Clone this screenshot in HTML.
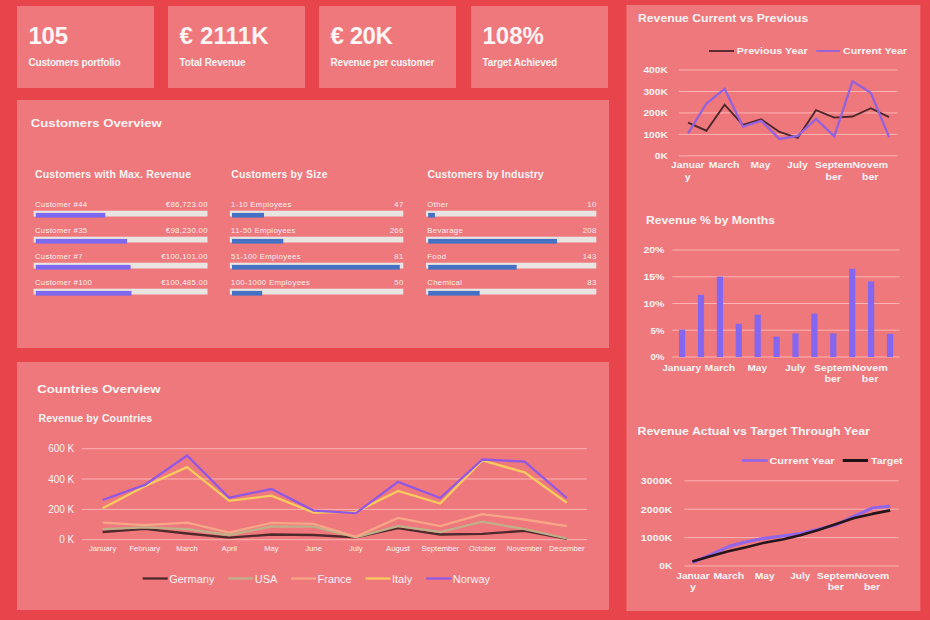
<!DOCTYPE html>
<html><head><meta charset="utf-8"><style>
html,body{margin:0;padding:0;width:930px;height:620px;overflow:hidden;background:#E7454B;}
svg{display:block;font-family:"Liberation Sans",sans-serif;}
</style></head><body>
<svg width="930" height="620" viewBox="0 0 930 620">
<rect x="0" y="0" width="930" height="620" fill="#E7454B"/>
<rect x="17" y="6" width="137" height="82" fill="#EF787C" />
<rect x="168" y="6" width="137" height="82" fill="#EF787C" />
<rect x="319" y="6" width="137" height="82" fill="#EF787C" />
<rect x="471" y="6" width="137" height="82" fill="#EF787C" />
<text x="28.5" y="44" font-size="24" font-weight="bold" text-anchor="start" fill="#FFF5F4" textLength="39.5" lengthAdjust="spacing" >105</text>
<text x="28.5" y="66" font-size="10" font-weight="bold" text-anchor="start" fill="#FFF5F4" textLength="92" lengthAdjust="spacing" >Customers portfolio</text>
<text x="179.5" y="44" font-size="24" font-weight="bold" text-anchor="start" fill="#FFF5F4" textLength="89.2" lengthAdjust="spacing" >€ 2111K</text>
<text x="179.5" y="66" font-size="10" font-weight="bold" text-anchor="start" fill="#FFF5F4" textLength="66" lengthAdjust="spacing" >Total Revenue</text>
<text x="330.5" y="44" font-size="24" font-weight="bold" text-anchor="start" fill="#FFF5F4" textLength="62.4" lengthAdjust="spacing" >€ 20K</text>
<text x="330.5" y="66" font-size="10" font-weight="bold" text-anchor="start" fill="#FFF5F4" textLength="103.9" lengthAdjust="spacing" >Revenue per customer</text>
<text x="482.5" y="44" font-size="24" font-weight="bold" text-anchor="start" fill="#FFF5F4" textLength="61.4" lengthAdjust="spacing" >108%</text>
<text x="482.5" y="66" font-size="10" font-weight="bold" text-anchor="start" fill="#FFF5F4" textLength="74.7" lengthAdjust="spacing" >Target Achieved</text>
<rect x="17" y="100" width="592" height="248" fill="#EF787C" />
<rect x="17" y="362" width="592" height="248" fill="#EF787C" />
<rect x="626.5" y="5" width="293.8" height="606" fill="#EF787C" />
<text x="30.8" y="127" font-size="11.8" font-weight="bold" text-anchor="start" fill="#FFF5F4" textLength="131" lengthAdjust="spacingAndGlyphs" >Customers Overview</text>
<text x="35.0" y="178.1" font-size="10.5" font-weight="bold" text-anchor="start" fill="#FFF5F4" textLength="156" lengthAdjust="spacing" >Customers with Max. Revenue</text>
<rect x="33.6" y="210.7" width="173.9" height="5.8" fill="#E9E4E1" />
<rect x="35.800000000000004" y="212.9" width="69.5" height="4.7" fill="#7D68F0" />
<text x="34.9" y="206.6" font-size="7.8" font-weight="normal" text-anchor="start" fill="#FDF0EF" letter-spacing="0.3">Customer #44</text>
<text x="207.8" y="206.6" font-size="7.8" font-weight="normal" text-anchor="end" fill="#FDF0EF" letter-spacing="0.3">€86,723.00</text>
<rect x="33.6" y="236.7" width="173.9" height="5.8" fill="#E9E4E1" />
<rect x="35.800000000000004" y="238.9" width="91.3" height="4.7" fill="#7D68F0" />
<text x="34.9" y="232.6" font-size="7.8" font-weight="normal" text-anchor="start" fill="#FDF0EF" letter-spacing="0.3">Customer #35</text>
<text x="207.8" y="232.6" font-size="7.8" font-weight="normal" text-anchor="end" fill="#FDF0EF" letter-spacing="0.3">€98,230.00</text>
<rect x="33.6" y="262.7" width="173.9" height="5.8" fill="#E9E4E1" />
<rect x="35.800000000000004" y="264.9" width="94.8" height="4.7" fill="#7D68F0" />
<text x="34.9" y="258.6" font-size="7.8" font-weight="normal" text-anchor="start" fill="#FDF0EF" letter-spacing="0.3">Customer #7</text>
<text x="207.8" y="258.6" font-size="7.8" font-weight="normal" text-anchor="end" fill="#FDF0EF" letter-spacing="0.3">€100,101.00</text>
<rect x="33.6" y="288.7" width="173.9" height="5.8" fill="#E9E4E1" />
<rect x="35.800000000000004" y="290.9" width="95.7" height="4.7" fill="#7D68F0" />
<text x="34.9" y="284.6" font-size="7.8" font-weight="normal" text-anchor="start" fill="#FDF0EF" letter-spacing="0.3">Customer #100</text>
<text x="207.8" y="284.6" font-size="7.8" font-weight="normal" text-anchor="end" fill="#FDF0EF" letter-spacing="0.3">€100,485.00</text>
<text x="231.20000000000002" y="178.1" font-size="10.5" font-weight="bold" text-anchor="start" fill="#FFF5F4" textLength="96.3" lengthAdjust="spacing" >Customers by Size</text>
<rect x="229.8" y="210.7" width="173.5" height="5.8" fill="#E9E4E1" />
<rect x="232.0" y="212.9" width="32.0" height="4.7" fill="#4571C4" />
<text x="231.10000000000002" y="206.6" font-size="7.8" font-weight="normal" text-anchor="start" fill="#FDF0EF" letter-spacing="0.3">1-10 Employees</text>
<text x="403.6" y="206.6" font-size="7.8" font-weight="normal" text-anchor="end" fill="#FDF0EF" letter-spacing="0.3">47</text>
<rect x="229.8" y="236.7" width="173.5" height="5.8" fill="#E9E4E1" />
<rect x="232.0" y="238.9" width="51.3" height="4.7" fill="#4571C4" />
<text x="231.10000000000002" y="232.6" font-size="7.8" font-weight="normal" text-anchor="start" fill="#FDF0EF" letter-spacing="0.3">11-50 Employees</text>
<text x="403.6" y="232.6" font-size="7.8" font-weight="normal" text-anchor="end" fill="#FDF0EF" letter-spacing="0.3">266</text>
<rect x="229.8" y="262.7" width="173.5" height="5.8" fill="#E9E4E1" />
<rect x="232.0" y="264.9" width="167.8" height="4.7" fill="#4571C4" />
<text x="231.10000000000002" y="258.6" font-size="7.8" font-weight="normal" text-anchor="start" fill="#FDF0EF" letter-spacing="0.3">51-100 Employees</text>
<text x="403.6" y="258.6" font-size="7.8" font-weight="normal" text-anchor="end" fill="#FDF0EF" letter-spacing="0.3">81</text>
<rect x="229.8" y="288.7" width="173.5" height="5.8" fill="#E9E4E1" />
<rect x="232.0" y="290.9" width="30.2" height="4.7" fill="#4571C4" />
<text x="231.10000000000002" y="284.6" font-size="7.8" font-weight="normal" text-anchor="start" fill="#FDF0EF" letter-spacing="0.3">100-1000 Employees</text>
<text x="403.6" y="284.6" font-size="7.8" font-weight="normal" text-anchor="end" fill="#FDF0EF" letter-spacing="0.3">50</text>
<text x="427.4" y="178.1" font-size="10.5" font-weight="bold" text-anchor="start" fill="#FFF5F4" textLength="116.3" lengthAdjust="spacing" >Customers by Industry</text>
<rect x="426" y="210.7" width="170.3" height="5.8" fill="#E9E4E1" />
<rect x="428.2" y="212.9" width="6.7" height="4.7" fill="#4571C4" />
<text x="427.3" y="206.6" font-size="7.8" font-weight="normal" text-anchor="start" fill="#FDF0EF" letter-spacing="0.3">Other</text>
<text x="596.5999999999999" y="206.6" font-size="7.8" font-weight="normal" text-anchor="end" fill="#FDF0EF" letter-spacing="0.3">10</text>
<rect x="426" y="236.7" width="170.3" height="5.8" fill="#E9E4E1" />
<rect x="428.2" y="238.9" width="128.8" height="4.7" fill="#4571C4" />
<text x="427.3" y="232.6" font-size="7.8" font-weight="normal" text-anchor="start" fill="#FDF0EF" letter-spacing="0.3">Bevarage</text>
<text x="596.5999999999999" y="232.6" font-size="7.8" font-weight="normal" text-anchor="end" fill="#FDF0EF" letter-spacing="0.3">208</text>
<rect x="426" y="262.7" width="170.3" height="5.8" fill="#E9E4E1" />
<rect x="428.2" y="264.9" width="88.5" height="4.7" fill="#4571C4" />
<text x="427.3" y="258.6" font-size="7.8" font-weight="normal" text-anchor="start" fill="#FDF0EF" letter-spacing="0.3">Food</text>
<text x="596.5999999999999" y="258.6" font-size="7.8" font-weight="normal" text-anchor="end" fill="#FDF0EF" letter-spacing="0.3">143</text>
<rect x="426" y="288.7" width="170.3" height="5.8" fill="#E9E4E1" />
<rect x="428.2" y="290.9" width="51.5" height="4.7" fill="#4571C4" />
<text x="427.3" y="284.6" font-size="7.8" font-weight="normal" text-anchor="start" fill="#FDF0EF" letter-spacing="0.3">Chemical</text>
<text x="596.5999999999999" y="284.6" font-size="7.8" font-weight="normal" text-anchor="end" fill="#FDF0EF" letter-spacing="0.3">83</text>
<text x="37.3" y="393" font-size="11.8" font-weight="bold" text-anchor="start" fill="#FFF5F4" textLength="123.2" lengthAdjust="spacingAndGlyphs" >Countries Overview</text>
<text x="38.5" y="422" font-size="10.5" font-weight="bold" text-anchor="start" fill="#FFF5F4" textLength="113.5" lengthAdjust="spacing" >Revenue by Countries</text>
<line x1="81.7" y1="539.7" x2="586.8" y2="539.7" stroke="#FAB4B4" stroke-width="1"/>
<text x="74.3" y="543.2" font-size="10" font-weight="normal" text-anchor="end" fill="#FFF5F4" >0 K</text>
<line x1="81.7" y1="509.4" x2="586.8" y2="509.4" stroke="#FAB4B4" stroke-width="1"/>
<text x="74.3" y="512.8700000000001" font-size="10" font-weight="normal" text-anchor="end" fill="#FFF5F4" >200 K</text>
<line x1="81.7" y1="479.0" x2="586.8" y2="479.0" stroke="#FAB4B4" stroke-width="1"/>
<text x="74.3" y="482.5400000000001" font-size="10" font-weight="normal" text-anchor="end" fill="#FFF5F4" >400 K</text>
<line x1="81.7" y1="448.7" x2="586.8" y2="448.7" stroke="#FAB4B4" stroke-width="1"/>
<text x="74.3" y="452.21000000000004" font-size="10" font-weight="normal" text-anchor="end" fill="#FFF5F4" >600 K</text>
<text x="102.6" y="551" font-size="7.7" font-weight="normal" text-anchor="middle" fill="#FFF5F4" >January</text>
<text x="144.8" y="551" font-size="7.7" font-weight="normal" text-anchor="middle" fill="#FFF5F4" >February</text>
<text x="187.0" y="551" font-size="7.7" font-weight="normal" text-anchor="middle" fill="#FFF5F4" >March</text>
<text x="229.2" y="551" font-size="7.7" font-weight="normal" text-anchor="middle" fill="#FFF5F4" >April</text>
<text x="271.4" y="551" font-size="7.7" font-weight="normal" text-anchor="middle" fill="#FFF5F4" >May</text>
<text x="313.6" y="551" font-size="7.7" font-weight="normal" text-anchor="middle" fill="#FFF5F4" >June</text>
<text x="355.8" y="551" font-size="7.7" font-weight="normal" text-anchor="middle" fill="#FFF5F4" >July</text>
<text x="398.0" y="551" font-size="7.7" font-weight="normal" text-anchor="middle" fill="#FFF5F4" >August</text>
<text x="440.2" y="551" font-size="7.7" font-weight="normal" text-anchor="middle" fill="#FFF5F4" >September</text>
<text x="482.4" y="551" font-size="7.7" font-weight="normal" text-anchor="middle" fill="#FFF5F4" >October</text>
<text x="524.6" y="551" font-size="7.7" font-weight="normal" text-anchor="middle" fill="#FFF5F4" >November</text>
<text x="566.8" y="551" font-size="7.7" font-weight="normal" text-anchor="middle" fill="#FFF5F4" >December</text>
<polyline points="102.6,532.0 144.8,528.8 187.0,533.5 229.2,537.6 271.4,534.5 313.6,535.0 355.8,537.3 398.0,528.2 440.2,534.5 482.4,533.9 524.6,530.8 566.8,538.9" fill="none" stroke="#50292D" stroke-width="2.3" stroke-linejoin="miter"/>
<polyline points="102.6,529.2 144.8,527.4 187.0,529.2 229.2,535.0 271.4,526.5 313.6,526.7 355.8,537.3 398.0,526.1 440.2,532.0 482.4,521.7 524.6,529.2 566.8,538.5" fill="none" stroke="#C0B08A" stroke-width="2.3" stroke-linejoin="miter"/>
<polyline points="102.6,522.6 144.8,525.1 187.0,522.7 229.2,532.6 271.4,522.9 313.6,523.9 355.8,536.8 398.0,517.9 440.2,526.1 482.4,514.2 524.6,519.5 566.8,526.1" fill="none" stroke="#F7A688" stroke-width="2.3" stroke-linejoin="miter"/>
<polyline points="102.6,508.2 144.8,486.2 187.0,467.1 229.2,500.9 271.4,495.6 313.6,512.6 355.8,511.9 398.0,491.0 440.2,503.5 482.4,460.4 524.6,472.4 566.8,502.8" fill="none" stroke="#FACB5E" stroke-width="2.3" stroke-linejoin="miter"/>
<polyline points="102.6,500.0 144.8,484.9 187.0,455.5 229.2,497.7 271.4,489.0 313.6,510.6 355.8,513.2 398.0,481.9 440.2,498.0 482.4,459.5 524.6,461.6 566.8,498.0" fill="none" stroke="#9258E2" stroke-width="2.3" stroke-linejoin="miter"/>
<line x1="142.7" y1="578.5" x2="167.7" y2="578.5" stroke="#50292D" stroke-width="2.3"/>
<text x="169.2" y="582.5" font-size="11" font-weight="normal" text-anchor="start" fill="#FFF5F4" >Germany</text>
<line x1="228.2" y1="578.5" x2="253.2" y2="578.5" stroke="#C0B08A" stroke-width="2.3"/>
<text x="254.7" y="582.5" font-size="11" font-weight="normal" text-anchor="start" fill="#FFF5F4" >USA</text>
<line x1="291" y1="578.5" x2="316" y2="578.5" stroke="#F7A688" stroke-width="2.3"/>
<text x="317.5" y="582.5" font-size="11" font-weight="normal" text-anchor="start" fill="#FFF5F4" >France</text>
<line x1="365.5" y1="578.5" x2="390.5" y2="578.5" stroke="#FACB5E" stroke-width="2.3"/>
<text x="392.0" y="582.5" font-size="11" font-weight="normal" text-anchor="start" fill="#FFF5F4" >Italy</text>
<line x1="426.3" y1="578.5" x2="451.3" y2="578.5" stroke="#9258E2" stroke-width="2.3"/>
<text x="452.8" y="582.5" font-size="11" font-weight="normal" text-anchor="start" fill="#FFF5F4" >Norway</text>
<text x="638" y="21.9" font-size="10.5" font-weight="bold" text-anchor="start" fill="#FFF5F4" textLength="170.3" lengthAdjust="spacingAndGlyphs" >Revenue Current vs Previous</text>
<line x1="709" y1="51" x2="734" y2="51" stroke="#55282E" stroke-width="1.9"/>
<text x="736.8" y="54.4" font-size="9.6" font-weight="bold" text-anchor="start" fill="#FFF5F4" textLength="70.9" lengthAdjust="spacingAndGlyphs" >Previous Year</text>
<line x1="816.3" y1="51" x2="840" y2="51" stroke="#9562DC" stroke-width="1.9"/>
<text x="843" y="54.4" font-size="9.6" font-weight="bold" text-anchor="start" fill="#FFF5F4" textLength="64" lengthAdjust="spacingAndGlyphs" >Current Year</text>
<line x1="678.7" y1="155.8" x2="897.5" y2="155.8" stroke="#FAB4B4" stroke-width="1"/>
<text x="654.8" y="159.1" font-size="9.2" font-weight="bold" text-anchor="start" fill="#FFF5F4" textLength="13" lengthAdjust="spacingAndGlyphs" >0K</text>
<line x1="678.7" y1="134.4" x2="897.5" y2="134.4" stroke="#FAB4B4" stroke-width="1"/>
<text x="643.4" y="137.7" font-size="9.2" font-weight="bold" text-anchor="start" fill="#FFF5F4" textLength="24.4" lengthAdjust="spacingAndGlyphs" >100K</text>
<line x1="678.7" y1="112.9" x2="897.5" y2="112.9" stroke="#FAB4B4" stroke-width="1"/>
<text x="643.4" y="116.2" font-size="9.2" font-weight="bold" text-anchor="start" fill="#FFF5F4" textLength="24.4" lengthAdjust="spacingAndGlyphs" >200K</text>
<line x1="678.7" y1="91.5" x2="897.5" y2="91.5" stroke="#FAB4B4" stroke-width="1"/>
<text x="643.4" y="94.8" font-size="9.2" font-weight="bold" text-anchor="start" fill="#FFF5F4" textLength="24.4" lengthAdjust="spacingAndGlyphs" >300K</text>
<line x1="678.7" y1="70.0" x2="897.5" y2="70.0" stroke="#FAB4B4" stroke-width="1"/>
<text x="643.4" y="73.3" font-size="9.2" font-weight="bold" text-anchor="start" fill="#FFF5F4" textLength="24.4" lengthAdjust="spacingAndGlyphs" >400K</text>
<polyline points="688.1,122.6 706.4,130.7 724.6,104.7 742.9,124.9 761.2,119.3 779.5,132.0 797.7,137.8 816.0,110.1 834.3,117.6 852.5,116.5 870.8,108.2 889.1,117.2" fill="none" stroke="#4E272C" stroke-width="1.9" stroke-linejoin="miter"/>
<polyline points="688.1,133.3 706.4,103.5 724.6,88.9 742.9,126.6 761.2,120.8 779.5,138.9 797.7,135.9 816.0,118.9 834.3,136.3 852.5,81.2 870.8,92.7 889.1,137.1" fill="none" stroke="#9562DC" stroke-width="2.3" stroke-linejoin="miter"/>
<text x="671.0" y="168.4" font-size="9.2" font-weight="bold" text-anchor="start" fill="#FFF5F4" textLength="33.6" lengthAdjust="spacingAndGlyphs" >Januar</text>
<text x="684.8" y="180" font-size="9.2" font-weight="bold" text-anchor="start" fill="#FFF5F4" textLength="6" lengthAdjust="spacingAndGlyphs" >y</text>
<text x="708.7" y="168.4" font-size="9.2" font-weight="bold" text-anchor="start" fill="#FFF5F4" textLength="30.8" lengthAdjust="spacingAndGlyphs" >March</text>
<text x="750.5" y="168.4" font-size="9.2" font-weight="bold" text-anchor="start" fill="#FFF5F4" textLength="19.9" lengthAdjust="spacingAndGlyphs" >May</text>
<text x="787.0" y="168.4" font-size="9.2" font-weight="bold" text-anchor="start" fill="#FFF5F4" textLength="20.7" lengthAdjust="spacingAndGlyphs" >July</text>
<text x="815.0" y="168.4" font-size="9.2" font-weight="bold" text-anchor="start" fill="#FFF5F4" textLength="37.4" lengthAdjust="spacingAndGlyphs" >Septem</text>
<text x="825.5" y="180" font-size="9.2" font-weight="bold" text-anchor="start" fill="#FFF5F4" textLength="16.5" lengthAdjust="spacingAndGlyphs" >ber</text>
<text x="852.3" y="168.4" font-size="9.2" font-weight="bold" text-anchor="start" fill="#FFF5F4" textLength="35.9" lengthAdjust="spacingAndGlyphs" >Novem</text>
<text x="862.0" y="180" font-size="9.2" font-weight="bold" text-anchor="start" fill="#FFF5F4" textLength="16.5" lengthAdjust="spacingAndGlyphs" >ber</text>
<text x="646" y="224" font-size="10.5" font-weight="bold" text-anchor="start" fill="#FFF5F4" textLength="129" lengthAdjust="spacingAndGlyphs" >Revenue % by Months</text>
<line x1="672.3" y1="357.0" x2="899.5" y2="357.0" stroke="#FAB4B4" stroke-width="1"/>
<text x="650.4" y="360.3" font-size="9.2" font-weight="bold" text-anchor="start" fill="#FFF5F4" textLength="14" lengthAdjust="spacingAndGlyphs" >0%</text>
<line x1="672.3" y1="330.2" x2="899.5" y2="330.2" stroke="#FAB4B4" stroke-width="1"/>
<text x="650.4" y="333.6" font-size="9.2" font-weight="bold" text-anchor="start" fill="#FFF5F4" textLength="14" lengthAdjust="spacingAndGlyphs" >5%</text>
<line x1="672.3" y1="303.5" x2="899.5" y2="303.5" stroke="#FAB4B4" stroke-width="1"/>
<text x="643.4" y="306.8" font-size="9.2" font-weight="bold" text-anchor="start" fill="#FFF5F4" textLength="21" lengthAdjust="spacingAndGlyphs" >10%</text>
<line x1="672.3" y1="276.8" x2="899.5" y2="276.8" stroke="#FAB4B4" stroke-width="1"/>
<text x="643.4" y="280.1" font-size="9.2" font-weight="bold" text-anchor="start" fill="#FFF5F4" textLength="21" lengthAdjust="spacingAndGlyphs" >15%</text>
<line x1="672.3" y1="250.0" x2="899.5" y2="250.0" stroke="#FAB4B4" stroke-width="1"/>
<text x="643.4" y="253.3" font-size="9.2" font-weight="bold" text-anchor="start" fill="#FFF5F4" textLength="21" lengthAdjust="spacingAndGlyphs" >20%</text>
<rect x="679.0" y="329.6" width="6.2" height="27.4" fill="#8466F0" />
<rect x="697.9" y="294.9" width="6.2" height="62.1" fill="#8466F0" />
<rect x="716.8" y="276.7" width="6.2" height="80.3" fill="#8466F0" />
<rect x="735.7" y="323.8" width="6.2" height="33.2" fill="#8466F0" />
<rect x="754.6" y="314.7" width="6.2" height="42.3" fill="#8466F0" />
<rect x="773.5" y="336.6" width="6.2" height="20.4" fill="#8466F0" />
<rect x="792.4" y="333.4" width="6.2" height="23.6" fill="#8466F0" />
<rect x="811.3" y="313.6" width="6.2" height="43.4" fill="#8466F0" />
<rect x="830.2" y="333.4" width="6.2" height="23.6" fill="#8466F0" />
<rect x="849.1" y="268.7" width="6.2" height="88.3" fill="#8466F0" />
<rect x="868.0" y="281.5" width="6.2" height="75.5" fill="#8466F0" />
<rect x="886.9" y="333.9" width="6.2" height="23.1" fill="#8466F0" />
<text x="662.2" y="371.2" font-size="9.2" font-weight="bold" text-anchor="start" fill="#FFF5F4" textLength="39" lengthAdjust="spacingAndGlyphs" >January</text>
<text x="704.5" y="371.2" font-size="9.2" font-weight="bold" text-anchor="start" fill="#FFF5F4" textLength="30.7" lengthAdjust="spacingAndGlyphs" >March</text>
<text x="747.5" y="371.2" font-size="9.2" font-weight="bold" text-anchor="start" fill="#FFF5F4" textLength="19.5" lengthAdjust="spacingAndGlyphs" >May</text>
<text x="784.9" y="371.2" font-size="9.2" font-weight="bold" text-anchor="start" fill="#FFF5F4" textLength="20.7" lengthAdjust="spacingAndGlyphs" >July</text>
<text x="814.1" y="371.2" font-size="9.2" font-weight="bold" text-anchor="start" fill="#FFF5F4" textLength="37.4" lengthAdjust="spacingAndGlyphs" >Septem</text>
<text x="824.5" y="382" font-size="9.2" font-weight="bold" text-anchor="start" fill="#FFF5F4" textLength="16.5" lengthAdjust="spacingAndGlyphs" >ber</text>
<text x="852.0" y="371.2" font-size="9.2" font-weight="bold" text-anchor="start" fill="#FFF5F4" textLength="35.9" lengthAdjust="spacingAndGlyphs" >Novem</text>
<text x="861.8" y="382" font-size="9.2" font-weight="bold" text-anchor="start" fill="#FFF5F4" textLength="16.5" lengthAdjust="spacingAndGlyphs" >ber</text>
<text x="637.5" y="435.3" font-size="10.5" font-weight="bold" text-anchor="start" fill="#FFF5F4" textLength="232.4" lengthAdjust="spacingAndGlyphs" >Revenue Actual vs Target Through Year</text>
<line x1="741.8" y1="460.5" x2="767.8" y2="460.5" stroke="#9366E8" stroke-width="2.6"/>
<text x="769.5" y="464" font-size="9.6" font-weight="bold" text-anchor="start" fill="#FFF5F4" textLength="65" lengthAdjust="spacingAndGlyphs" >Current Year</text>
<line x1="842.7" y1="460.5" x2="868" y2="460.5" stroke="#1E1416" stroke-width="3"/>
<text x="871" y="464" font-size="9.6" font-weight="bold" text-anchor="start" fill="#FFF5F4" textLength="31.6" lengthAdjust="spacingAndGlyphs" >Target</text>
<line x1="684.3" y1="566.0" x2="898.9" y2="566.0" stroke="#FAB4B4" stroke-width="1"/>
<text x="659.3" y="569.3" font-size="9.2" font-weight="bold" text-anchor="start" fill="#FFF5F4" textLength="13" lengthAdjust="spacingAndGlyphs" >0K</text>
<line x1="684.3" y1="537.6" x2="898.9" y2="537.6" stroke="#FAB4B4" stroke-width="1"/>
<text x="640.8" y="540.9" font-size="9.2" font-weight="bold" text-anchor="start" fill="#FFF5F4" textLength="31.5" lengthAdjust="spacingAndGlyphs" >1000K</text>
<line x1="684.3" y1="509.2" x2="898.9" y2="509.2" stroke="#FAB4B4" stroke-width="1"/>
<text x="640.8" y="512.5" font-size="9.2" font-weight="bold" text-anchor="start" fill="#FFF5F4" textLength="31.5" lengthAdjust="spacingAndGlyphs" >2000K</text>
<line x1="684.3" y1="480.8" x2="898.9" y2="480.8" stroke="#FAB4B4" stroke-width="1"/>
<text x="640.8" y="484.1" font-size="9.2" font-weight="bold" text-anchor="start" fill="#FFF5F4" textLength="31.5" lengthAdjust="spacingAndGlyphs" >3000K</text>
<polyline points="692.4,562.4 710.4,555.0 728.4,546.6 746.3,541.8 764.3,538.4 782.3,536.0 800.3,533.5 818.3,529.3 836.2,524.8 854.2,516.3 872.2,508.0 890.2,506.2" fill="none" stroke="#9366E8" stroke-width="3.2" stroke-linejoin="round"/>
<polyline points="692.4,561.6 710.4,556.2 728.4,551.3 746.3,547.2 764.3,542.7 782.3,539.5 800.3,535.3 818.3,529.9 836.2,524.0 854.2,518.0 872.2,513.9 890.2,510.4" fill="none" stroke="#26161A" stroke-width="2.6" stroke-linejoin="round"/>
<text x="676.2" y="579" font-size="9.2" font-weight="bold" text-anchor="start" fill="#FFF5F4" textLength="33.6" lengthAdjust="spacingAndGlyphs" >Januar</text>
<text x="690.0" y="589.5" font-size="9.2" font-weight="bold" text-anchor="start" fill="#FFF5F4" textLength="6" lengthAdjust="spacingAndGlyphs" >y</text>
<text x="713.4" y="579" font-size="9.2" font-weight="bold" text-anchor="start" fill="#FFF5F4" textLength="30.8" lengthAdjust="spacingAndGlyphs" >March</text>
<text x="754.8" y="579" font-size="9.2" font-weight="bold" text-anchor="start" fill="#FFF5F4" textLength="19.9" lengthAdjust="spacingAndGlyphs" >May</text>
<text x="790.2" y="579" font-size="9.2" font-weight="bold" text-anchor="start" fill="#FFF5F4" textLength="20.1" lengthAdjust="spacingAndGlyphs" >July</text>
<text x="816.8" y="579" font-size="9.2" font-weight="bold" text-anchor="start" fill="#FFF5F4" textLength="37.9" lengthAdjust="spacingAndGlyphs" >Septem</text>
<text x="827.7" y="589.5" font-size="9.2" font-weight="bold" text-anchor="start" fill="#FFF5F4" textLength="16.2" lengthAdjust="spacingAndGlyphs" >ber</text>
<text x="854.6" y="579" font-size="9.2" font-weight="bold" text-anchor="start" fill="#FFF5F4" textLength="34.7" lengthAdjust="spacingAndGlyphs" >Novem</text>
<text x="863.9" y="589.5" font-size="9.2" font-weight="bold" text-anchor="start" fill="#FFF5F4" textLength="16.2" lengthAdjust="spacingAndGlyphs" >ber</text>
</svg></body></html>
